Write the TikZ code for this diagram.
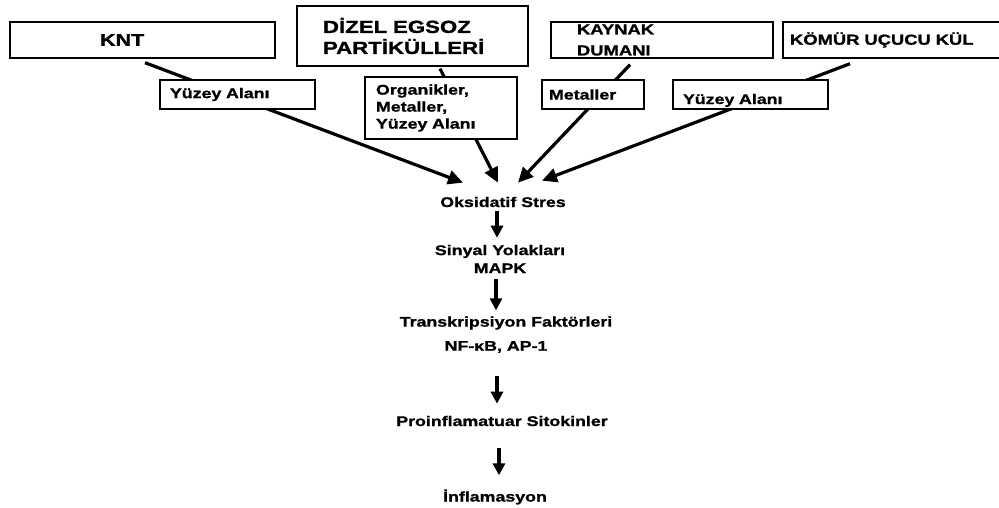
\documentclass[tikz,border=0pt]{standalone}
\usepackage{fontspec}
\setmainfont{Liberation Sans}[FakeStretch=1.27,FakeBold=1.2]
\usetikzlibrary{arrows.meta}

\tikzset{
  srcbox/.style={draw, line width=1.4pt, rectangle, inner ysep=0pt, align=left,
    font=\bfseries\fontsize{14.5}{21}\selectfont},
  tagbox/.style={draw, line width=1.4pt, fill=white, rectangle, inner ysep=0pt,
    minimum height=29pt, align=left, font=\bfseries\fontsize{14}{17}\selectfont},
  stage/.style={inner sep=0pt, align=center, font=\bfseries\fontsize{14}{18}\selectfont},
  feed/.style={line width=3.2pt, -{Triangle[length=15pt,width=14pt]}},
  flow/.style={line width=3.5pt, -{Triangle[length=12pt,width=12pt]}}
}

\begin{document}
\begin{tikzpicture}[x=1pt, y=-1pt]
    \useasboundingbox (0,0) rectangle (999,507);

    % sources
    \node[srcbox, minimum width=265pt, minimum height=36pt, text width=85pt, inner xsep=90pt,
      font=\bfseries\fontsize{17}{21}\selectfont]
      at (142.5, 40) (knt) {KNT};
    \node[srcbox, minimum width=231pt, minimum height=60pt, text width=179pt, inner xsep=26pt,
      font=\bfseries\fontsize{17.5}{21}\selectfont]
      at (412.5, 36) (dizel) {DİZEL EGSOZ\\PARTİKÜLLERİ};
    \node[srcbox, minimum width=222pt, minimum height=36pt, text width=170pt, inner xsep=26pt]
      at (662, 40) (kaynak) {KAYNAK\\DUMANI};
    \node[srcbox, minimum width=220pt, minimum height=36pt, text width=206pt, inner xsep=7pt]
      at (893, 40) (komur) {KÖMÜR UÇUCU KÜL};

    % pathway
    \node[stage] at (503, 202) (oks) {Oksidatif Stres};
    \node[stage] at (500, 259) (sin) {Sinyal Yolakları\\MAPK};
    \node[stage] at (506, 323) (trf) {Transkripsiyon Faktörleri};
    \node[stage] at (496, 347) (nfkb) {NF-κB, AP-1};
    \node[stage] at (502, 421) (pro) {Proinflamatuar Sitokinler};
    \node[stage] at (495, 497) (inf) {İnflamasyon};

    \draw [feed] ([xshift=2.5pt,yshift=-4pt]knt.south) -- ([xshift=-40pt,yshift=14pt]oks.north);
    \draw [feed] ([xshift=27.5pt,yshift=-2pt]dizel.south) -- ([xshift=-5pt,yshift=14pt]oks.north);
    \draw [feed] ([xshift=-32pt,yshift=-6pt]kaynak.south) -- ([xshift=15pt,yshift=14pt]oks.north);
    \draw [feed] ([xshift=-43pt,yshift=-5pt]komur.south) -- ([xshift=39pt,yshift=16pt]oks.north);

    \draw [flow] ([xshift=-6pt,yshift=-4pt]oks.south) -- ([xshift=-3pt,yshift=7pt]sin.north);
    \draw [flow] ([xshift=-4pt,yshift=-6pt]sin.south) -- ([xshift=-10pt,yshift=6pt]trf.north);
    \draw [flow] ([xshift=1pt,yshift=-23pt]nfkb.south) -- ([xshift=-5pt,yshift=12pt]pro.north);
    \draw [flow] ([xshift=-3pt,yshift=-22pt]pro.south) -- ([xshift=4pt,yshift=14pt]inf.north);

    % labels on the arrows
    \node[tagbox, minimum width=155pt, text width=135pt, inner xsep=10pt]
      at (237.5, 94.5) (yuzeyl) {Yüzey Alanı};
    \node[srcbox, fill=white, minimum width=152pt, minimum height=62pt, text width=130pt, inner xsep=11pt,
      font=\bfseries\fontsize{14}{17}\selectfont]
      at (441, 108) (organ) {Organikler,\\Metaller,\\Yüzey Alanı};
    \node[tagbox, minimum width=102pt, text width=88pt, inner xsep=7pt]
      at (593, 94.5) (metal) {Metaller};
    \node[tagbox, minimum width=155pt, text width=135pt, inner xsep=10pt]
      at (750.5, 94.5) (yuzeyr) {\raisebox{-6pt}[7pt][0pt]{Yüzey Alanı}};
  \end{tikzpicture}
\end{document}
